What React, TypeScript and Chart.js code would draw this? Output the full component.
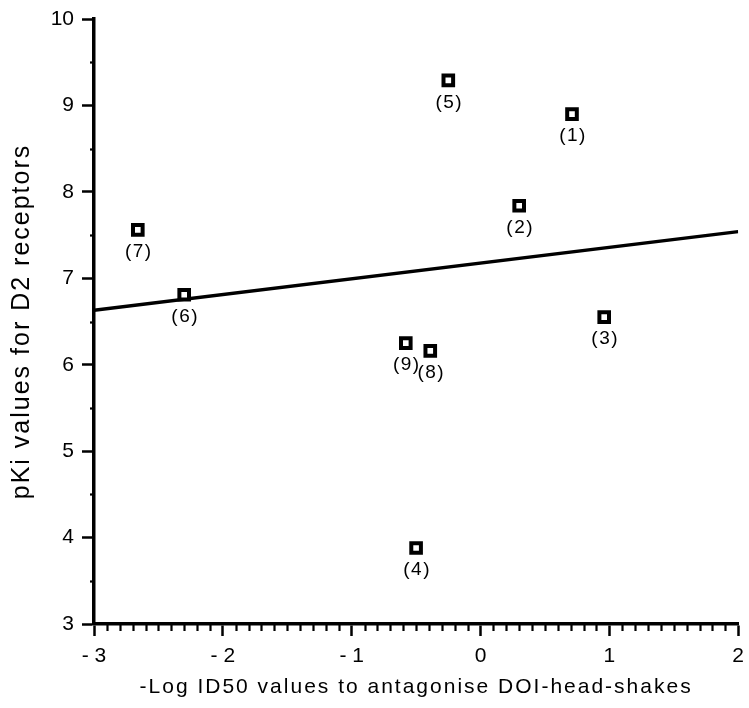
import React, { useEffect, useRef } from 'react';
import { Chart, registerables } from 'chart.js';

Chart.register(...registerables);

// ---- data ----
const compoundLabels = ['(1)', '(2)', '(3)', '(4)', '(5)', '(6)', '(7)', '(8)', '(9)'];
const logID50 = [0.71, 0.3, 0.96, -0.5, -0.25, -2.3, -2.66, -0.39, -0.58];
const pKiD2 = [8.9, 7.84, 6.55, 3.88, 9.29, 6.81, 7.56, 6.16, 6.25];
const fitLineX = [-3, 2];
const fitLineY = [6.63, 7.54];
const xRange = [-3, 2];
const yRange = [3, 10];
const xMajorStep = 1;
const yMajorStep = 1;
const xMinorStep = 0.1;
const yMinorStep = 0.5;
const xTitle = '-Log ID50 values to antagonise DOI-head-shakes';
const yTitle = 'pKi values for D2 receptors';

const FONT = "'Liberation Sans', Arial, Helvetica, sans-serif";

const trackedTitles = {
  id: 'trackedTitles',
  beforeDraw(chart: any) {
    Object.values(chart.scales).forEach((scale: any) => {
      if (scale.__tracked) return;
      const orig = scale.drawTitle;
      scale.drawTitle = function (...args: any[]) {
        const ctx = this.ctx;
        const prev = ctx.letterSpacing;
        ctx.letterSpacing = '2px';
        orig.apply(this, args);
        ctx.letterSpacing = prev || '0px';
      };
      scale.__tracked = true;
    });
  },
};

const minorTicks = {
  id: 'minorTicks',
  afterDraw(chart: any) {
    const { ctx } = chart;
    const xs = chart.scales.x;
    const ys = chart.scales.y;
    ctx.save();
    ctx.strokeStyle = '#000';
    ctx.lineWidth = 2.2;
    const nx = Math.round((xs.max - xs.min) / xMinorStep);
    for (let i = 0; i <= nx; i++) {
      const v = xs.min + i * xMinorStep;
      if (Math.abs(v / xMajorStep - Math.round(v / xMajorStep)) < 1e-6) continue;
      const px = Math.round(xs.getPixelForValue(v)) + 0.5;
      ctx.beginPath();
      ctx.moveTo(px, ys.bottom);
      ctx.lineTo(px, ys.bottom + 7);
      ctx.stroke();
    }
    const ny = Math.round((ys.max - ys.min) / yMinorStep);
    for (let i = 0; i <= ny; i++) {
      const v = ys.min + i * yMinorStep;
      if (Math.abs(v / yMajorStep - Math.round(v / yMajorStep)) < 1e-6) continue;
      const py = Math.round(ys.getPixelForValue(v)) + 0.5;
      ctx.beginPath();
      ctx.moveTo(xs.left, py);
      ctx.lineTo(xs.left - 4, py);
      ctx.stroke();
    }
    ctx.restore();
  },
};

const pointLabels = {
  id: 'pointLabels',
  afterDatasetsDraw(chart: any) {
    const { ctx } = chart;
    const meta = chart.getDatasetMeta(0);
    ctx.save();
    ctx.fillStyle = '#000';
    ctx.font = `19px ${FONT}`;
    ctx.letterSpacing = '1.5px';
    ctx.textAlign = 'center';
    ctx.textBaseline = 'middle';
    meta.data.forEach((pt: any, i: number) => {
      ctx.fillText(compoundLabels[i], pt.x + 1, pt.y + 22);
    });
    ctx.restore();
  },
};

const fmtX = (v: number) => (v < 0 ? '- ' + Math.abs(v) : String(v));

export default function App() {
  const ref = useRef<HTMLCanvasElement>(null);
  useEffect(() => {
    if (!ref.current) return;
    const chart = new Chart(ref.current, {
      type: 'scatter',
      data: {
        datasets: [
          {
            type: 'scatter',
            data: logID50.map((x, i) => ({ x, y: pKiD2[i] })),
            pointStyle: 'rect',
            pointRadius: 6.8,
            backgroundColor: '#fff',
            borderColor: '#000',
            borderWidth: 4,
          },
          {
            type: 'line',
            data: fitLineX.map((x, i) => ({ x, y: fitLineY[i] })),
            borderColor: '#000',
            borderWidth: 3.5,
            pointRadius: 0,
            fill: false,
          } as any,
        ],
      },
      options: {
        responsive: false,
        animation: false,
        devicePixelRatio: 1,
        layout: { padding: { top: 19, right: 9, left: 0, bottom: 0 } },
        plugins: {
          legend: { display: false },
          tooltip: { enabled: false },
          title: { display: false },
        },
        scales: {
          x: {
            type: 'linear',
            position: 'bottom',
            min: xRange[0],
            max: xRange[1],
            ticks: {
              stepSize: xMajorStep,
              callback: (v: any) => fmtX(Number(v)),
              font: { family: FONT, size: 21 },
              color: '#000',
              padding: 8,
              maxRotation: 0,
              autoSkip: false,
            },
            grid: {
              display: true,
              drawOnChartArea: false,
              drawTicks: true,
              tickLength: 12,
              tickWidth: 2.5,
              tickColor: '#000',
            },
            border: { display: true, width: 3.5, color: '#000' },
            title: {
              display: true,
              text: xTitle,
              font: { family: FONT, size: 21 },
              color: '#000',
              padding: 8,
            },
            afterFit: (s: any) => {
              s.height = 84;
              s.paddingLeft = 0;
              s.paddingRight = 0;
            },
          },
          y: {
            type: 'linear',
            min: yRange[0],
            max: yRange[1],
            ticks: {
              stepSize: yMajorStep,
              font: { family: FONT, size: 21 },
              color: '#000',
              padding: 8,
            },
            grid: {
              display: true,
              drawOnChartArea: false,
              drawTicks: true,
              tickLength: 12,
              tickWidth: 2.5,
              tickColor: '#000',
            },
            border: { display: true, width: 3.5, color: '#000' },
            title: {
              display: true,
              text: yTitle,
              font: { family: FONT, size: 25 },
              color: '#000',
              padding: 7,
            },
            afterFit: (s: any) => {
              s.width = 94;
              s.paddingTop = 0;
              s.paddingBottom = 0;
            },
          },
        },
      } as any,
      plugins: [trackedTitles, minorTicks, pointLabels],
    });
    return () => chart.destroy();
  }, []);
  return (
    <div style={{ position: 'absolute', left: 0, top: 0, width: 749, height: 708, background: '#fff' }}>
      <canvas ref={ref} width={749} height={708} style={{ display: 'block' }} />
    </div>
  );
}
